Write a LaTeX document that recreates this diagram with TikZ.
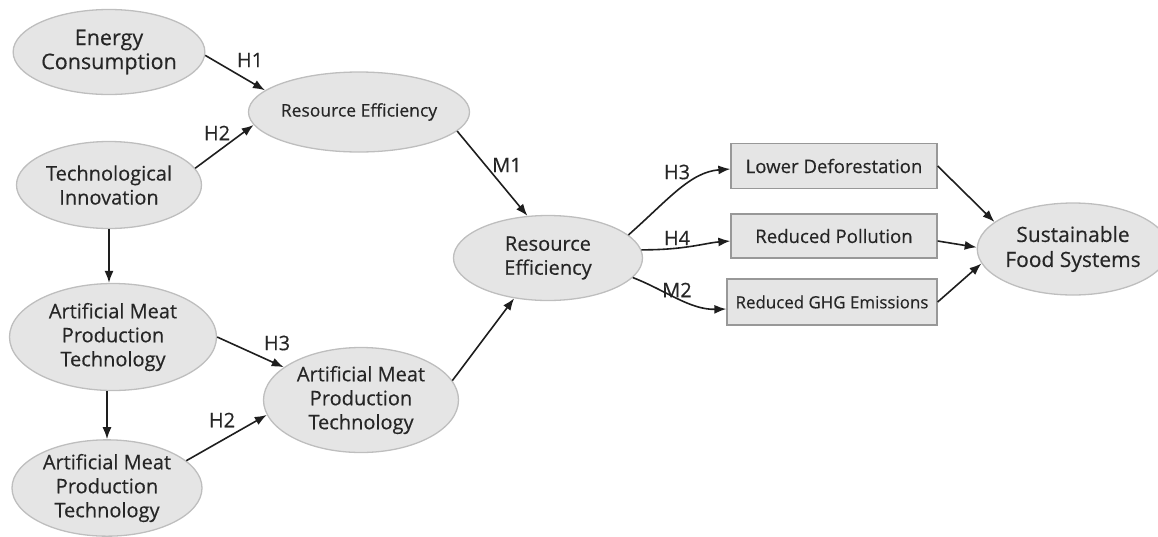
\documentclass[tikz,border=0pt]{standalone}
\usepackage{fontspec}
\setmainfont{Open Sans}[FakeBold=0.4]
\usetikzlibrary{arrows.meta,shapes.geometric}
\definecolor{nodefill}{RGB}{229,229,229}
\definecolor{nodeline}{RGB}{190,190,190}
\definecolor{arrowcol}{RGB}{30,30,30}
\begin{document}
\begin{tikzpicture}[x=1pt,y=-1pt,
  ell/.style={ellipse, draw=nodeline, fill=nodefill, line width=1.3pt, inner sep=0pt, align=center, text=black!85},
  rbox/.style={rectangle, draw=nodeline!80!black, fill=nodefill, line width=1.3pt, inner sep=0pt, align=center, text=black!85},
  bigtxt/.style={font=\fontsize{20}{24}\selectfont},
  hugetxt/.style={font=\fontsize{21.5}{24}\selectfont},
  midtxt/.style={font=\fontsize{17.5}{21}\selectfont},
  lab/.style={font=\fontsize{20}{22}\selectfont, text=black!85, inner sep=0pt},
  arr/.style={-{Latex[length=12pt,width=9pt]}, line width=1.6pt, draw=arrowcol}]
\useasboundingbox (0,0) rectangle (1158,536);
% ellipses
\node[ell, hugetxt, minimum width=188pt, minimum height=85pt] (ec) at (109,52) {Energy\\Consumption};
\node[ell, midtxt, minimum width=195pt, minimum height=80pt] (ret) at (359,112) {Resource Efficiency};
\node[ell, bigtxt, minimum width=185pt, minimum height=87pt] (ti) at (109,185) {Technological\\Innovation};
\node[ell, bigtxt, minimum width=207pt, minimum height=107pt] (am1) at (113,337) {Artificial Meat\\Production\\Technology};
\node[ell, bigtxt, minimum width=195pt, minimum height=105pt] (am2) at (361,400) {Artificial Meat\\Production\\Technology};
\node[ell, bigtxt, minimum width=190pt, minimum height=96pt] (am3) at (107,488) {Artificial Meat\\Production\\Technology};
\node[ell, bigtxt, minimum width=189pt, minimum height=85pt] (rec) at (548,258) {Resource\\Efficiency};
\node[ell, font=\fontsize{21}{25}\selectfont, minimum width=167pt, minimum height=92pt] (sfs) at (1073,249) {Sustainable\\Food Systems};
% boxes
\node[rbox, font=\fontsize{18.6}{22}\selectfont, minimum width=206pt, minimum height=45pt] (ld) at (834,166) {Lower Deforestation};
\node[rbox, font=\fontsize{18.6}{22}\selectfont, minimum width=206pt, minimum height=44pt] (rp) at (834,236) {Reduced Pollution};
\node[rbox, font=\fontsize{16.9}{20}\selectfont, minimum width=210pt, minimum height=46pt] (ghg) at (832,302) {Reduced GHG Emissions};
% labels
\node[lab] (lh1) at (250,60) {H1};
\node[lab] (lh2) at (217,133) {H2};
\node[lab] (lh3) at (277,343) {H3};
\node[lab] (lh2b) at (222,420) {H2};
\node[lab] (lm1) at (507,165) {M1};
\node[lab] (lh3b) at (677,172) {H3};
\node[lab] (lh4) at (677,238) {H4};
\node[lab] (lm2) at (677,290) {M2};
% connectors
\draw[arr] (ec.-2) -- (ret.167);
\draw[arr] (ti.11) -- (ret.187);
\draw[arr] (ti.south) -- (am1.north -| ti.south);
\draw[arr] (am1.south -| am3.north) -- (am3.north);
\draw[arr] (am1.0) -- (am2.157);
\draw[arr] (am3.19) -- (am2.189);
\draw[arr] (ret.-11) -- (rec.116);
\draw[arr] (am2.12) -- (rec.-130);
\draw[arr] (rec.16) .. controls (668,200) and (690,172) .. ([yshift=-3pt]ld.west);
\draw[arr] (rec.5) .. controls (685,250) and (705,243) .. ([yshift=-5pt]rp.west);
\draw[arr] (rec.-13) .. controls (665,290) and (690,310) .. ([yshift=-7pt]ghg.west);
\draw[arr] (ld.east) -- (sfs.161);
\draw[arr] ([yshift=-5pt]rp.east) -- (sfs.179);
\draw[arr] (ghg.east) -- (sfs.-171);
\end{tikzpicture}
\end{document}
